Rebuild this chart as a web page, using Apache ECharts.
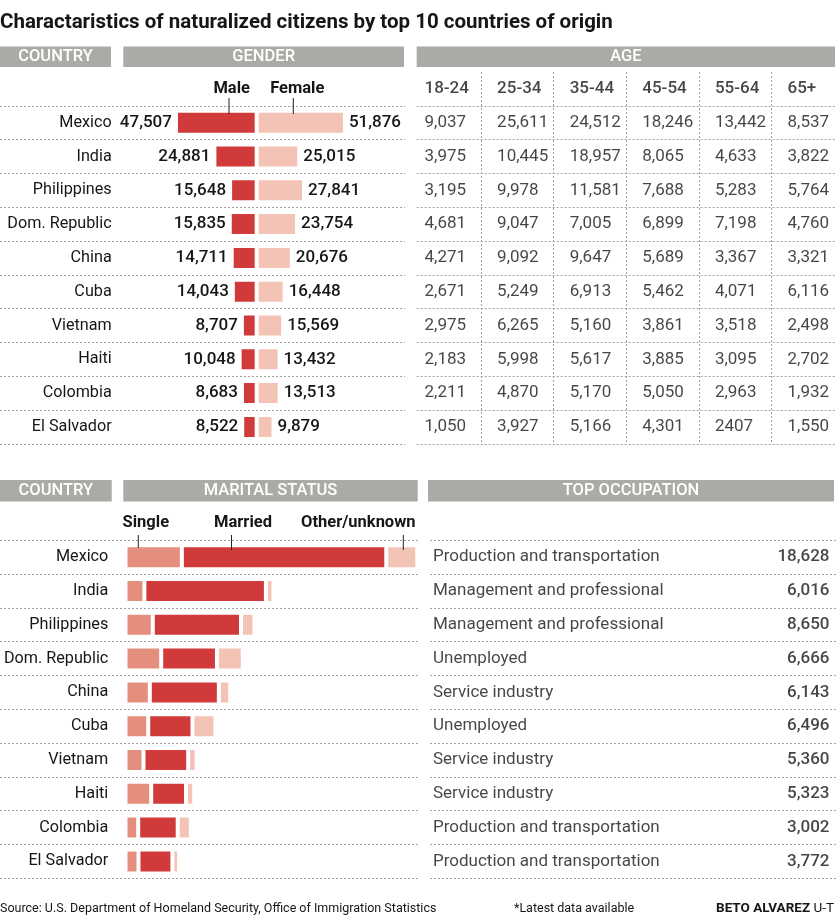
<!DOCTYPE html>
<html><head><meta charset="utf-8">
<script src="https://cdn.jsdelivr.net/npm/echarts@6.0.0/dist/echarts.min.js"></script>
<style>html,body{margin:0;padding:0;background:#fff}#c{width:840px;height:918px}</style>
</head><body><div id="c"></div>
<script>
// ---------- DATA ----------
const countries = ['Mexico','India','Philippines','Dom. Republic','China','Cuba','Vietnam','Haiti','Colombia','El Salvador'];
const male   = [47507,24881,15648,15835,14711,14043,8707,10048,8683,8522];
const female = [51876,25015,27841,23754,20676,16448,15569,13432,13513,9879];
const ageGroups = ['18-24','25-34','35-44','45-54','55-64','65+'];
const age18to24 = [9037,3975,3195,4681,4271,2671,2975,2183,2211,1050];
const age25to34 = [25611,10445,9978,9047,9092,5249,6265,5998,4870,3927];
const age35to44 = [24512,18957,11581,7005,9647,6913,5160,5617,5170,5166];
const age45to54 = [18246,8065,7688,6899,5689,5462,3861,3885,5050,4301];
const age55to64 = [13442,4633,5283,7198,3367,4071,3518,3095,2963,2407];
const age65plus = [8537,3822,5764,4760,3321,6116,2498,2702,1932,1550];
const unformattedCells = [[9,4]]; // [row, col] printed without thousands separator in source
const single  = [19100,6400,9250,12100,8240,7700,6100,8710,4300,4400];
const married = [69300,41200,29900,18900,23400,15000,15150,11800,13400,11500];
const otherUnknown = [10500,2550,4580,8750,3860,7800,2900,2780,4440,2270];
const occupations = ['Production and transportation','Management and professional','Management and professional','Unemployed','Service industry','Unemployed','Service industry','Service industry','Production and transportation','Production and transportation'];
const occupationCounts = [18628,6016,8650,6666,6143,6496,5360,5323,3002,3772];

// ---------- STYLE / LAYOUT ----------
const FF = 'Roboto,"DejaVu Sans Condensed",sans-serif';
const RED = '#d03a3b', PINK = '#f3c3b5', SALMON = '#e48e7e', GRAY = '#abaaa6', INK = '#161616';
const ROW = 33.8;
const G_TOP = 105.8, M_TOP = 540.3;
const G_ZERO = 256.7, G_SCALE = 0.0017, G_W = 405;
const M_ZERO = 125.5, M_SCALE = 0.00295, M_W = 418;
const COLW = 72.6, AGE_LEFT = 408.5;
const BODY = 17, COUNTRY_FS = 16.2;
const fmt = v => Math.round(v).toLocaleString('en-US');
const ageCols = [age18to24, age25to34, age35to44, age45to54, age55to64, age65plus];
const isRaw = (r, c) => unformattedCells.some(p => p[0] === r && p[1] === c);

const dotted = { show: true, interval: 0, lineStyle: { type: [2, 2], color: '#a0a0a0', width: 1 } };
const hiddenParts = { axisLine: { show: false }, axisTick: { show: false } };

const ageCells = [];
ageCols.forEach((col, c) => col.forEach((v, r) => ageCells.push([c, r + 1, v])));

function header(x, y, w, h, text) {
  return [
    { type: 'rect', shape: { x, y, width: w, height: h }, style: { fill: GRAY }, silent: true },
    { type: 'text', x: x + w / 2, y: y + h / 2 + 0.5, silent: true,
      style: { text, fill: '#fff', fontSize: 16.5, fontWeight: 500, fontFamily: FF, align: 'center', verticalAlign: 'middle' } }
  ];
}
function legendMark(cx, ty, text, lx, y1, y2) {
  return [
    { type: 'text', x: cx, y: ty, silent: true,
      style: { text, fill: INK, fontSize: 16.5, fontWeight: 'bold', fontFamily: FF, align: 'center', verticalAlign: 'middle' } },
    { type: 'line', shape: { x1: lx, y1, x2: lx, y2 }, style: { stroke: '#222', lineWidth: 1 }, silent: true, z: 100 }
  ];
}
const gridBase = { outerBoundsMode: 'none', containLabel: false };

const chart = echarts.init(document.getElementById('c'), null, { renderer: 'canvas' });
const option = {
  animation: false,
  backgroundColor: '#fff',
  textStyle: { fontFamily: FF },
  title: {
    text: 'Charactaristics of naturalized citizens by top 10 countries of origin',
    left: 0, top: 12, padding: 0,
    textStyle: { fontSize: 20.5, fontWeight: 'bold', fontFamily: FF, color: INK }
  },
  grid: [
    { ...gridBase, left: 0, top: G_TOP, width: G_W, height: ROW * 10 },
    { ...gridBase, left: AGE_LEFT, top: G_TOP - ROW, width: COLW * 6, height: ROW * 11 },
    { ...gridBase, left: 416.7, top: G_TOP, width: 418.3, height: ROW * 10 },
    { ...gridBase, left: 0, top: M_TOP, width: M_W, height: ROW * 10 },
    { ...gridBase, left: 430, top: M_TOP, width: 408, height: ROW * 10 }
  ],
  xAxis: [
    { gridIndex: 0, type: 'value', min: -G_ZERO / G_SCALE, max: (G_W - G_ZERO) / G_SCALE, show: false },
    { gridIndex: 1, type: 'category', data: ageGroups, ...hiddenParts, axisLabel: { show: false },
      splitLine: { ...dotted, showMinLine: false, showMaxLine: false } },
    { gridIndex: 2, type: 'value', min: 0, max: 1, show: false },
    { gridIndex: 3, type: 'value', min: -M_ZERO / M_SCALE, max: (M_W - M_ZERO) / M_SCALE, show: false },
    { gridIndex: 4, type: 'value', min: 0, max: 1, show: false }
  ],
  yAxis: [
    { gridIndex: 0, type: 'category', data: countries, inverse: true, offset: -119.7, ...hiddenParts,
      axisLabel: { interval: 0, margin: 8, fontSize: COUNTRY_FS, color: INK, fontFamily: FF }, splitLine: dotted },
    { gridIndex: 1, type: 'category', data: ['', ...countries], inverse: true, show: false },
    { gridIndex: 2, type: 'category', data: countries, inverse: true, ...hiddenParts,
      axisLabel: { show: false }, splitLine: dotted },
    { gridIndex: 3, type: 'category', data: countries, inverse: true, offset: -116.3, ...hiddenParts,
      axisLabel: { interval: 0, margin: 8, fontSize: COUNTRY_FS, color: INK, fontFamily: FF }, splitLine: dotted },
    { gridIndex: 4, type: 'category', data: countries, inverse: true, ...hiddenParts,
      axisLabel: { show: false }, splitLine: dotted }
  ],
  series: [
    { type: 'bar', name: 'Male', xAxisIndex: 0, yAxisIndex: 0, data: male.map(v => -v),
      barWidth: 24, barGap: '-100%', silent: true,
      itemStyle: { color: RED, borderColor: '#fff', borderWidth: 2 },
      label: { show: true, position: 'left', distance: 4, formatter: p => fmt(-p.value),
        fontSize: BODY, fontWeight: 500, color: INK, fontFamily: FF } },
    { type: 'bar', name: 'Female', xAxisIndex: 0, yAxisIndex: 0, data: female,
      barWidth: 24, barGap: '-100%', silent: true,
      itemStyle: { color: PINK, borderColor: '#fff', borderWidth: 2 },
      label: { show: true, position: 'right', distance: 4, formatter: p => fmt(p.value),
        fontSize: BODY, fontWeight: 500, color: INK, fontFamily: FF } },
    { type: 'scatter', name: 'Age groups', xAxisIndex: 1, yAxisIndex: 1, symbolSize: 0, silent: true,
      data: ageGroups.map((g, c) => [c, 0]),
      label: { show: true, position: 'inside', align: 'left', offset: [-COLW / 2 + 16, 0],
        formatter: p => ageGroups[p.value[0]], fontSize: BODY, fontWeight: 500, color: INK, fontFamily: FF } },
    { type: 'scatter', name: 'Age', xAxisIndex: 1, yAxisIndex: 1, symbolSize: 0, silent: true,
      data: ageCells,
      label: { show: true, position: 'inside', align: 'left', offset: [-COLW / 2 + 16, 0],
        formatter: p => isRaw(p.value[1] - 1, p.value[0]) ? String(p.value[2]) : fmt(p.value[2]),
        fontSize: BODY, color: INK, fontFamily: FF } },
    { type: 'bar', name: 'Single', xAxisIndex: 3, yAxisIndex: 3, stack: 'm', data: single,
      barWidth: 24, silent: true, itemStyle: { color: SALMON, borderColor: '#fff', borderWidth: 2 } },
    { type: 'bar', name: 'Married', xAxisIndex: 3, yAxisIndex: 3, stack: 'm', data: married,
      barWidth: 24, silent: true, itemStyle: { color: RED, borderColor: '#fff', borderWidth: 2 } },
    { type: 'bar', name: 'Other/unknown', xAxisIndex: 3, yAxisIndex: 3, stack: 'm', data: otherUnknown,
      barWidth: 24, silent: true, itemStyle: { color: PINK, borderColor: '#fff', borderWidth: 2 } },
    { type: 'scatter', name: 'Occupation', xAxisIndex: 4, yAxisIndex: 4, symbolSize: 0, silent: true,
      data: countries.map(c => [0, c]),
      label: { show: true, position: 'right', distance: 3, formatter: p => occupations[p.dataIndex],
        fontSize: BODY, color: INK, fontFamily: FF } },
    { type: 'scatter', name: 'Occupation count', xAxisIndex: 4, yAxisIndex: 4, symbolSize: 0, silent: true,
      data: countries.map((c, i) => [1, c, occupationCounts[i]]),
      label: { show: true, position: 'left', distance: 8.5, formatter: p => fmt(p.value[2]),
        fontSize: BODY, fontWeight: 500, color: INK, fontFamily: FF } }
  ],
  graphic: [
    ...header(0, 46.5, 111, 20.5, 'COUNTRY'),
    ...header(123.3, 46.5, 280.7, 20.5, 'GENDER'),
    ...header(416.7, 46.5, 418.3, 20.5, 'AGE'),
    ...header(0, 480, 111.7, 21.5, 'COUNTRY'),
    ...header(123.3, 480, 294.4, 21.5, 'MARITAL STATUS'),
    ...header(428, 480, 406, 21.5, 'TOP OCCUPATION'),
    ...legendMark(231.7, 89, 'Male', 229, 98, 114),
    ...legendMark(297.3, 89, 'Female', 293.3, 98, 114),
    ...legendMark(145.8, 523, 'Single', 138.3, 535, 548),
    ...legendMark(243, 523, 'Married', 231.5, 535, 550),
    ...legendMark(358.3, 523, 'Other/unknown', 403.3, 535, 550),
    { type: 'text', x: 0, y: 909, silent: true,
      style: { text: 'Source: U.S. Department of Homeland Security, Office of Immigration Statistics',
        fill: INK, fontSize: 12.5, fontFamily: FF, align: 'left', verticalAlign: 'middle' } },
    { type: 'text', x: 514, y: 909, silent: true,
      style: { text: '*Latest data available', fill: INK, fontSize: 12.5, fontFamily: FF, align: 'left', verticalAlign: 'middle' } },
    { type: 'text', x: 834, y: 909, silent: true,
      style: { text: '{b|BETO ALVAREZ} U-T', fill: INK, fontSize: 13.5, fontFamily: FF, align: 'right', verticalAlign: 'middle',
        rich: { b: { fontWeight: 'bold', fontSize: 13.5, fontFamily: FF, fill: INK } } } }
  ]
};
chart.setOption(option);
</script></body></html>
